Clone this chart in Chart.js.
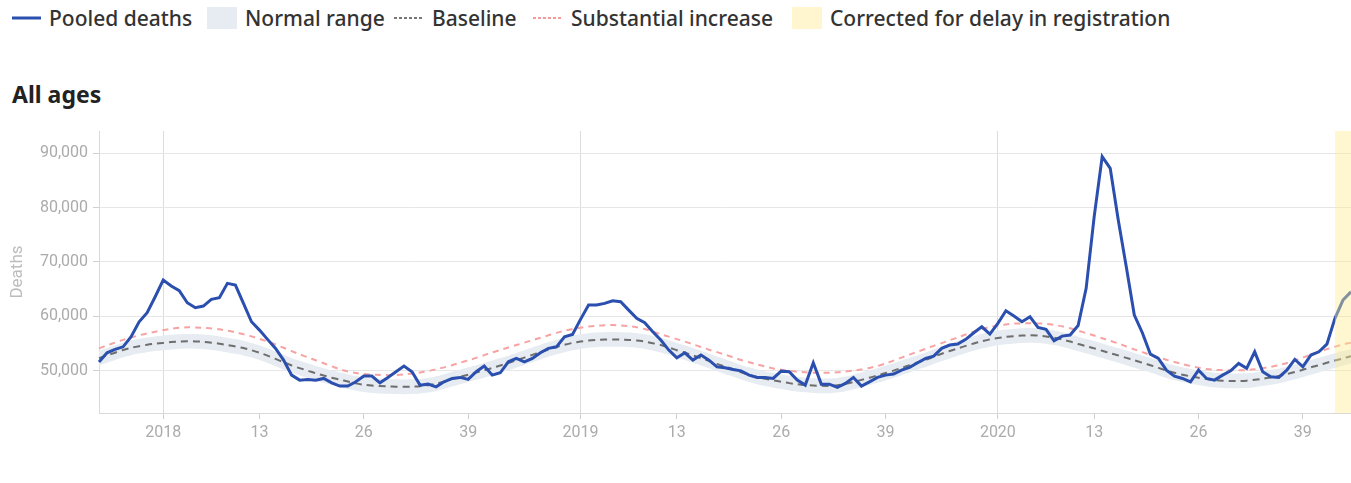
<!DOCTYPE html>
<html>
<head>
<meta charset="utf-8">
<title>All ages - pooled deaths</title>
<script src="https://cdn.jsdelivr.net/npm/chart.js@4.4.1/dist/chart.umd.min.js"></script>
<style>
  body { margin: 0; width: 1351px; height: 483px; background: #fff; overflow: hidden; position: relative; font-family: "Noto Sans", sans-serif; }
  .legend-item { position: absolute; top: 3px; height: 30px; display: flex; align-items: center; font-size: 21px; font-weight: 500; color: #333; white-space: nowrap; }
  .legend-item svg, .legend-item .box { margin-right: 8px; flex: none; }
  .box { width: 30px; height: 22px; }
  #title { position: absolute; left: 12px; top: 82px; font-size: 23px; font-weight: 700; color: #222; line-height: 24px; }
  #chartWrap { position: absolute; left: 0; top: 120px; width: 1351px; height: 340px; }
</style>
</head>
<body>
<div class="legend-item" style="left:12px"><svg width="29" height="6"><line x1="0" y1="3" x2="29" y2="3" stroke="#2a4fae" stroke-width="3"/></svg>Pooled deaths</div>
<div class="legend-item" style="left:207px"><div class="box" style="background:#e6ecf1"></div>Normal range</div>
<div class="legend-item" style="left:394px"><svg width="30" height="6"><line x1="0" y1="3" x2="30" y2="3" stroke="#777" stroke-width="2" stroke-dasharray="3 2"/></svg>Baseline</div>
<div class="legend-item" style="left:533px"><svg width="30" height="6"><line x1="0" y1="3" x2="30" y2="3" stroke="#f59a9a" stroke-width="2" stroke-dasharray="3 2"/></svg>Substantial increase</div>
<div class="legend-item" style="left:792px"><div class="box" style="background:#fff6cf"></div>Corrected for delay in registration</div>
<div id="title">All ages</div>
<div id="chartWrap"><canvas id="chart" width="1351" height="340"></canvas></div>
<script>
// Weekly series, first point = 2017 week 45, last point = 2020 week 45.
const startYear = 2017;
const startWeek = 45;
const weeksInYear = { 2017: 52, 2018: 52, 2019: 52, 2020: 53 };
const tickWeeks = [1, 13, 26, 39];
const yTicks = [50000, 60000, 70000, 80000, 90000];
const correctedFrom = '2020-W43';

const pooledDeaths = [
  51600, 53280, 53900, 54380, 56230, 58990, 60650, 63600, 66670, 65560,
  64700, 62490, 61570, 61880, 63110, 63410, 66060, 65750, 62380, 58990,
  57460, 55750, 54090, 51930, 49170, 48250, 48380, 48250, 48560, 47750,
  47150, 47150, 47940, 49000, 49000, 47750, 48750, 49790, 50830, 49790,
  47330, 47510, 47020, 47940, 48560, 48750, 48380, 49790, 50830, 49170,
  49600, 51620, 52250, 51620, 52250, 53280, 54090, 54380, 56230, 56660,
  59430, 62060, 62060, 62370, 62860, 62670, 61140, 59620, 58810, 57150,
  55620, 53780, 52360, 53280, 51930, 52860, 51930, 50700, 50520, 50220,
  49960, 49170, 48750, 48750, 48560, 49900, 49790, 48250, 47330, 51440,
  47510, 47510, 46900, 47640, 48750, 47150, 47940, 48750, 49170, 49360,
  50090, 50590, 51440, 52250, 52670, 54090, 54700, 54880, 55750, 56970,
  58070, 56720, 58690, 61010, 60040, 58990, 59910, 57960, 57590, 55490,
  56350, 56540, 58300, 65140, 78330, 89380, 87240, 77720, 69120, 60220,
  56970, 53040, 52250, 50090, 48990, 48560, 47940, 50090, 48560, 48250,
  49170, 49960, 51330, 50410, 53460, 49790, 48870, 48750, 50090, 52060,
  50700, 52860, 53460, 54880, 59620, 62990, 64520
];

const baseline = [
  52300, 52800, 53300, 53800, 54200, 54500, 54750, 54950, 55100, 55250,
  55350, 55400, 55380, 55300, 55150, 54950, 54700, 54450, 54150, 53750,
  53300, 52750, 52150, 51550, 50950, 50450, 50000, 49500, 49100, 48700,
  48350, 48000, 47650, 47400, 47250, 47150, 47100, 47050, 47020, 47050,
  47120, 47300, 47600, 48000, 48450, 48850, 49250, 49650, 50050, 50500,
  50950, 51400, 51900, 52400, 52900, 53400, 53900, 54350, 54750, 55100,
  55350, 55550, 55650, 55720, 55750, 55720, 55650, 55550, 55350, 55050,
  54700, 54250, 53750, 53300, 52800, 52300, 51800, 51250, 50750, 50250,
  49700, 49250, 48850, 48500, 48200, 47950, 47700, 47500, 47350, 47250,
  47200, 47200, 47300, 47550, 47900, 48300, 48700, 49100, 49550, 50000,
  50500, 51000, 51500, 52000, 52550, 53100, 53600, 54100, 54550, 55000,
  55400, 55750, 56000, 56200, 56350, 56450, 56500, 56450, 56300, 56050,
  55750, 55350, 54900, 54500, 54100, 53650, 53200, 52800, 52350, 51900,
  51450, 51000, 50500, 50000, 49600, 49250, 48950, 48700, 48450, 48250,
  48150, 48100, 48100, 48150, 48300, 48500, 48750, 49000, 49350, 49750,
  50150, 50600, 51000, 51450, 51850, 52250, 52650
];

const substantialIncrease = [
  54100, 54650, 55150, 55650, 56100, 56500, 56850, 57150, 57450, 57700,
  57880, 57960, 57950, 57880, 57760, 57600, 57350, 57050, 56700, 56300,
  55850, 55350, 54800, 54200, 53600, 53000, 52450, 51900, 51350, 50800,
  50250, 49850, 49550, 49380, 49270, 49200, 49170, 49200, 49300, 49450,
  49650, 49900, 50250, 50600, 51000, 51450, 51900, 52350, 52850, 53350,
  53800, 54250, 54700, 55150, 55600, 56050, 56500, 56950, 57350, 57650,
  57900, 58100, 58250, 58350, 58380, 58330, 58200, 57980, 57650, 57200,
  56700, 56250, 55800, 55350, 54850, 54350, 53850, 53400, 52950, 52450,
  51950, 51550, 51150, 50750, 50400, 50150, 49950, 49800, 49700, 49630,
  49600, 49620, 49700, 49850, 50000, 50200, 50500, 50850, 51300, 51850,
  52400, 52950, 53500, 54000, 54550, 55050, 55600, 56100, 56650, 57150,
  57650, 58050, 58300, 58500, 58650, 58700, 58700, 58690, 58600, 58400,
  58150, 57800, 57350, 56900, 56450, 55950, 55500, 55000, 54450, 53900,
  53400, 52900, 52450, 52000, 51600, 51200, 50850, 50550, 50300, 50150,
  50090, 50050, 50060, 50100, 50250, 50450, 50700, 51000, 51400, 51900,
  52400, 52950, 53450, 53950, 54400, 54800, 55150
];

const normalLower = [
  50950, 51450, 51950, 52450, 52850, 53150, 53400, 53600, 53750, 53900,
  54000, 54050, 54030, 53950, 53800, 53600, 53350, 53100, 52800, 52400,
  51950, 51400, 50800, 50200, 49600, 49100, 48650, 48150, 47750, 47350,
  47000, 46650, 46300, 46050, 45900, 45800, 45750, 45700, 45670, 45700,
  45770, 45950, 46250, 46650, 47100, 47500, 47900, 48300, 48700, 49150,
  49600, 50050, 50550, 51050, 51550, 52050, 52550, 53000, 53400, 53750,
  54000, 54200, 54300, 54370, 54400, 54370, 54300, 54200, 54000, 53700,
  53350, 52900, 52400, 51950, 51450, 50950, 50450, 49900, 49400, 48900,
  48350, 47900, 47500, 47150, 46850, 46600, 46350, 46150, 46000, 45900,
  45850, 45850, 45950, 46200, 46550, 46950, 47350, 47750, 48200, 48650,
  49150, 49650, 50150, 50650, 51200, 51750, 52250, 52750, 53200, 53650,
  54050, 54400, 54650, 54850, 55000, 55100, 55150, 55100, 54950, 54700,
  54400, 54000, 53550, 53150, 52750, 52300, 51850, 51450, 51000, 50550,
  50100, 49650, 49150, 48650, 48250, 47900, 47600, 47350, 47100, 46900,
  46800, 46750, 46750, 46800, 46950, 47150, 47400, 47650, 48000, 48400,
  48800, 49250, 49650, 50100, 50500, 50900, 51300
];

const normalUpper = [
  53650, 54150, 54650, 55150, 55550, 55850, 56100, 56300, 56450, 56600,
  56700, 56750, 56730, 56650, 56500, 56300, 56050, 55800, 55500, 55100,
  54650, 54100, 53500, 52900, 52300, 51800, 51350, 50850, 50450, 50050,
  49700, 49350, 49000, 48750, 48600, 48500, 48450, 48400, 48370, 48400,
  48470, 48650, 48950, 49350, 49800, 50200, 50600, 51000, 51400, 51850,
  52300, 52750, 53250, 53750, 54250, 54750, 55250, 55700, 56100, 56450,
  56700, 56900, 57000, 57070, 57100, 57070, 57000, 56900, 56700, 56400,
  56050, 55600, 55100, 54650, 54150, 53650, 53150, 52600, 52100, 51600,
  51050, 50600, 50200, 49850, 49550, 49300, 49050, 48850, 48700, 48600,
  48550, 48550, 48650, 48900, 49250, 49650, 50050, 50450, 50900, 51350,
  51850, 52350, 52850, 53350, 53900, 54450, 54950, 55450, 55900, 56350,
  56750, 57100, 57350, 57550, 57700, 57800, 57850, 57800, 57650, 57400,
  57100, 56700, 56250, 55850, 55450, 55000, 54550, 54150, 53700, 53250,
  52800, 52350, 51850, 51350, 50950, 50600, 50300, 50050, 49800, 49600,
  49500, 49450, 49450, 49500, 49650, 49850, 50100, 50350, 50700, 51100,
  51500, 51950, 52350, 52800, 53200, 53600, 54000
];

// Build the week labels (category axis) from the start week
const weekInfo = [];
{
  let year = startYear;
  let week = startWeek;
  for (let i = 0; i < pooledDeaths.length; i++) {
    weekInfo.push({ year, week });
    week++;
    if (week > weeksInYear[year]) {
      week = 1;
      year++;
    }
  }
}
const weekLabels = weekInfo.map(w => `${w.year}-W${String(w.week).padStart(2, '0')}`);

function isLabeledWeek(i) {
  return Boolean(weekInfo[i]) && tickWeeks.includes(weekInfo[i].week);
}
function isYearStart(i) {
  return Boolean(weekInfo[i]) && weekInfo[i].week === 1;
}

// Shaded area for the weeks that were corrected for late registration
const correctedBand = {
  id: 'correctedBand',
  afterDatasetsDraw(chart) {
    const { ctx, chartArea, scales } = chart;
    const from = scales.x.getPixelForValue(weekLabels.indexOf(correctedFrom));
    ctx.save();
    ctx.fillStyle = 'rgba(255, 236, 140, 0.42)';
    ctx.fillRect(from, chartArea.top, chartArea.right - from, chartArea.bottom - chartArea.top);
    ctx.restore();
  },
};

const tickFont = { family: 'Roboto, "Liberation Sans", sans-serif', size: 16 };

new Chart(document.getElementById('chart').getContext('2d'), {
  type: 'line',
  data: {
    labels: weekLabels,
    datasets: [
      {
        label: 'Pooled deaths',
        data: pooledDeaths,
        borderColor: '#2a4fae',
        borderWidth: 3,
        pointRadius: 0,
        tension: 0,
        fill: false,
        order: 0,
      },
      {
        label: 'Baseline',
        data: baseline,
        borderColor: '#6e6e6e',
        borderWidth: 2,
        borderDash: [7, 5],
        pointRadius: 0,
        tension: 0.3,
        fill: false,
        order: 1,
      },
      {
        label: 'Substantial increase',
        data: substantialIncrease,
        borderColor: '#f7a3a3',
        borderWidth: 2,
        borderDash: [6, 5],
        pointRadius: 0,
        tension: 0.3,
        fill: false,
        order: 2,
      },
      {
        label: 'Normal range (upper)',
        data: normalUpper,
        borderWidth: 0,
        borderColor: 'rgba(0,0,0,0)',
        backgroundColor: '#e6ecf1',
        pointRadius: 0,
        tension: 0.3,
        fill: '+1',
        order: 3,
      },
      {
        label: 'Normal range (lower)',
        data: normalLower,
        borderWidth: 0,
        borderColor: 'rgba(0,0,0,0)',
        pointRadius: 0,
        tension: 0.3,
        fill: false,
        order: 4,
      },
    ],
  },
  options: {
    responsive: false,
    animation: false,
    layout: { padding: { top: 11, right: 0, bottom: 0, left: 0 } },
    plugins: {
      legend: { display: false },
      tooltip: { enabled: false },
    },
    scales: {
      x: {
        type: 'category',
        offset: false,
        grid: {
          color: (c) => (isYearStart(c.index) ? '#dcdcdc' : 'rgba(0,0,0,0)'),
          tickColor: (c) => (isLabeledWeek(c.index) ? '#cfcfcf' : 'rgba(0,0,0,0)'),
          tickLength: 6,
          lineWidth: 1,
        },
        border: { color: '#d9d9d9' },
        ticks: {
          autoSkip: false,
          maxRotation: 0,
          padding: 4,
          color: '#ababab',
          font: tickFont,
          // empty string keeps the tick (a null label would drop its grid line)
          callback: (value, index) => {
            if (!isLabeledWeek(index)) return '';
            const w = weekInfo[index];
            return w.week === 1 ? String(w.year) : String(w.week);
          },
        },
        afterFit: (scale) => {
          scale.height = 47;
          scale.paddingLeft = 0;
          scale.paddingRight = 0;
        },
      },
      y: {
        min: 42200,
        max: 94100,
        afterBuildTicks: (scale) => { scale.ticks = yTicks.map(v => ({ value: v })); },
        grid: { color: '#e6e6e6', tickColor: '#d0d0d0', tickLength: 6 },
        border: { color: '#d9d9d9' },
        ticks: {
          color: '#ababab',
          padding: 5,
          font: tickFont,
          callback: (v) => v.toLocaleString('en-US'),
        },
        title: {
          display: true,
          text: 'Deaths',
          color: '#bdbdbd',
          font: { family: 'Roboto, "Liberation Sans", sans-serif', size: 17 },
          padding: { top: 8, bottom: 0 },
        },
        afterFit: (scale) => {
          scale.width = 99;
          scale.paddingTop = 0;
          scale.paddingBottom = 0;
        },
      },
    },
  },
  plugins: [correctedBand],
});
</script>
</body>
</html>
